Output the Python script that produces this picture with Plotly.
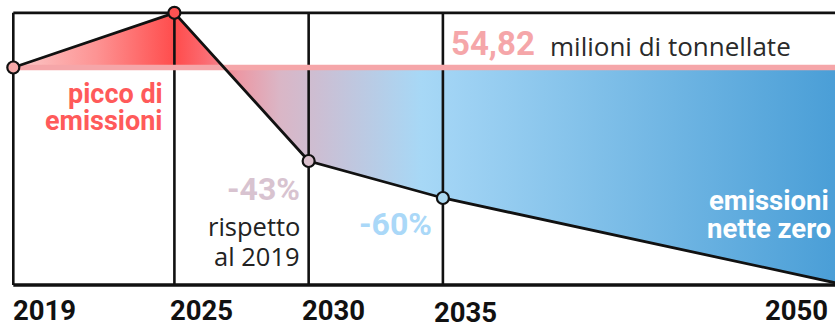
import plotly.graph_objects as go

# ---- data ----
years = [2019, 2025, 2030, 2035, 2050]
emissions = [54.82, 68.6, 31.25, 21.93, 0.0]   # milioni di tonnellate
year_labels = ["2019", "2025", "2030", "2035", "2050"]
ref_value_label = "54,82"
ref_unit_label = "milioni di tonnellate"
marker_colors = ["#f6a9a9", "#ff5252", "#d9bfcc", "#acd9f2"]

# ---- layout geometry ----
W, H = 835, 328
X0_PX, PX_PER_YEAR = 13.3, 26.85
Y0_PX, PX_PER_UNIT = 285.0, 3.9675
x_range = [years[0] - X0_PX / PX_PER_YEAR, years[0] + (W - X0_PX) / PX_PER_YEAR]
y_range = [-(H - Y0_PX) / PX_PER_UNIT, Y0_PX / PX_PER_UNIT]

ref = emissions[0]
peak = max(emissions)
BLACK = "#111111"
PINK = "#f5a6a9"

grad = [
    [0.0, "#fbcaca"],
    [0.10, "#fd9393"],
    [0.194, "#ff4c4c"],
    [0.23, "#fb6a70"],
    [0.27, "#ec98a4"],
    [0.32, "#dab6c6"],
    [0.37, "#cbbfd4"],
    [0.49, "#a7d8f6"],
    [0.53, "#a0d3f4"],
    [0.68, "#84c2ea"],
    [1.0, "#489dd6"],
]

fig = go.Figure()

# reference trace for the fill
fig.add_trace(go.Scatter(x=[years[0], years[-1]], y=[ref, ref], mode="lines",
                         line=dict(width=0, color="rgba(0,0,0,0)"), hoverinfo="skip",
                         showlegend=False))
# gradient fill between curve and the 2019 level
fig.add_trace(go.Scatter(x=years, y=emissions, mode="none", fill="tonexty",
                         fillgradient=dict(type="horizontal", colorscale=grad,
                                           start=years[0], stop=years[-1]),
                         hoverinfo="skip", showlegend=False))

# frame: verticals
vx, vy = [], []
for yv in years[:-1]:
    vx += [yv, yv, None]
    vy += [0, peak, None]
fig.add_trace(go.Scatter(x=vx, y=vy, mode="lines", line=dict(color=BLACK, width=2.6),
                         hoverinfo="skip", showlegend=False))
# top line
fig.add_trace(go.Scatter(x=[years[0], years[-1]], y=[peak, peak], mode="lines",
                         line=dict(color=BLACK, width=2.6), hoverinfo="skip", showlegend=False))
# bottom line
fig.add_trace(go.Scatter(x=[years[0], years[-1]], y=[0, 0], mode="lines",
                         line=dict(color=BLACK, width=3.4), hoverinfo="skip", showlegend=False))
# pink reference line
fig.add_trace(go.Scatter(x=[years[0], years[-1]], y=[ref, ref], mode="lines",
                         line=dict(color=PINK, width=5.5), hoverinfo="skip", showlegend=False))
# emission curve
fig.add_trace(go.Scatter(x=years, y=emissions, mode="lines",
                         line=dict(color=BLACK, width=2.8), hoverinfo="skip", showlegend=False))
# markers
fig.add_trace(go.Scatter(x=years[:-1], y=emissions[:-1], mode="markers",
                         marker=dict(size=12, color=marker_colors,
                                     line=dict(color=BLACK, width=2.2)),
                         hoverinfo="skip", showlegend=False))


def ann(text, x, py, xanchor, size, color, family="Roboto", bold=True, xshift=0, xref="x"):
    return dict(text=text, xref=xref, x=x, xshift=xshift, yref="paper", y=1 - py / H,
                yanchor="middle", xanchor=xanchor, showarrow=False, borderpad=0,
                font=dict(family=family, size=size, color=color,
                          weight="bold" if bold else "normal"))


RED_TXT = "#ff5a5a"
annotations = [
    ann("picco di", years[1], 93.8, "right", 27, RED_TXT, xshift=-10),
    ann("emissioni", years[1], 120.8, "right", 27, RED_TXT, xshift=-10),
    ann(ref_value_label, years[3], 43.8, "left", 33, PINK, xshift=7),
    ann(ref_unit_label, years[3], 46.2, "left", 26, "#2a2a2a", family="Open Sans",
        bold=False, xshift=106),
    ann("-43%", years[2], 189, "right", 32, "#d8c3d0", xshift=-8),
    ann("rispetto", years[2], 226.3, "right", 25.5, "#222222", family="Open Sans",
        bold=False, xshift=-8),
    ann("al 2019", years[2], 256.3, "right", 25.5, "#222222", family="Open Sans",
        bold=False, xshift=-8),
    ann("-60%", years[3], 224, "right", 32, "#aad8f8", xshift=-10),
    ann("emissioni", 769 / W, 200.6, "center", 27.5, "#ffffff", xref="paper"),
    ann("nette zero", 769 / W, 228.6, "center", 27.5, "#ffffff", xref="paper"),
]
label_py = [310.5, 310.5, 310.5, 312.5, 310.5]
label_shift = [-1, -5, -8, -10]
for i, lab in enumerate(year_labels[:-1]):
    annotations.append(ann(lab, years[i], label_py[i], "left", 27.5, BLACK, xshift=label_shift[i]))
annotations.append(ann(year_labels[-1], 1.0, label_py[-1], "right", 27.5, BLACK,
                       xref="paper", xshift=-6))

fig.update_layout(
    width=W, height=H, margin=dict(l=0, r=0, t=0, b=0),
    paper_bgcolor="white", plot_bgcolor="white",
    xaxis=dict(range=x_range, visible=False, fixedrange=True),
    yaxis=dict(range=y_range, visible=False, fixedrange=True),
    annotations=annotations, showlegend=False,
)

fig.write_html("out.html")
